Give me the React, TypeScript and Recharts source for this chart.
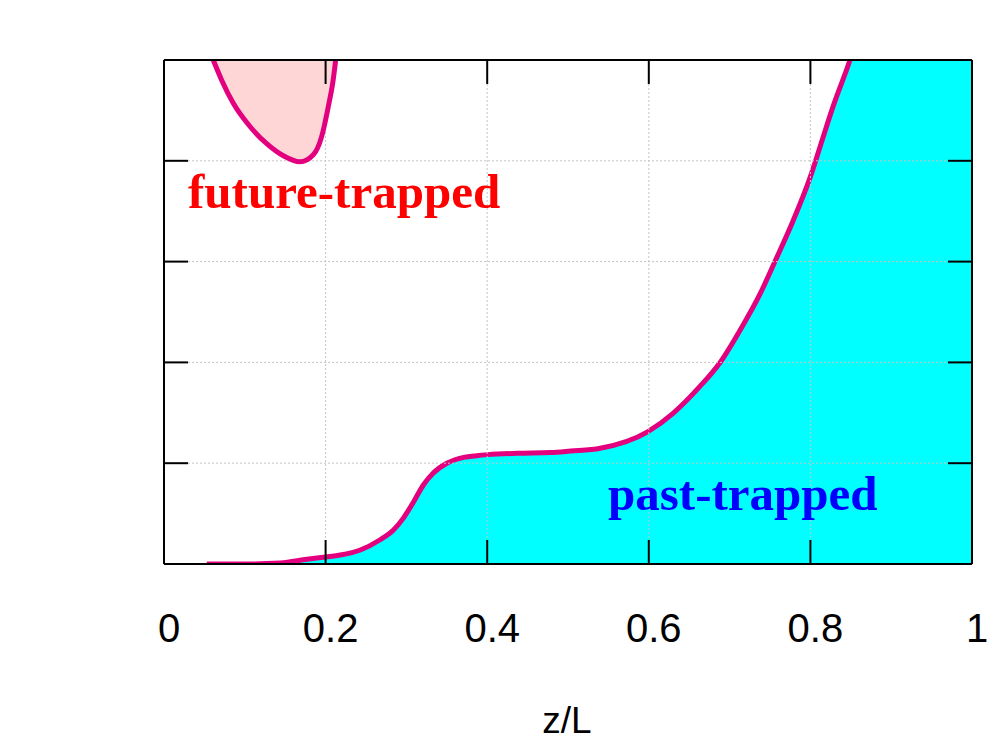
import React from 'react';
import { ComposedChart, Area, XAxis, YAxis, CartesianGrid } from 'recharts';

// past-trapped boundary (lower curve), z/L vs value
const pastZ = [0.053, 0.1, 0.144, 0.177, 0.2, 0.218, 0.243, 0.267, 0.284, 0.296, 0.309, 0.321, 0.333, 0.35, 0.371, 0.387, 0.401, 0.437, 0.478, 0.503, 0.54, 0.599, 0.63, 0.663, 0.688, 0.713, 0.738, 0.756, 0.779, 0.8, 0.812, 0.828, 0.849, 0.9, 1.0];
const pastBoundary = [0.0, 0.0, 0.01, 0.047, 0.07, 0.089, 0.139, 0.238, 0.337, 0.453, 0.618, 0.784, 0.9, 0.999, 1.058, 1.075, 1.085, 1.098, 1.105, 1.12, 1.148, 1.313, 1.495, 1.759, 1.997, 2.32, 2.685, 2.999, 3.413, 3.843, 4.14, 4.537, 5.0, 6.5, 9.0];

// future-trapped boundary (upper U-shaped curve)
const futureZ = [0.061, 0.0714, 0.0858, 0.1064, 0.1271, 0.1477, 0.1683, 0.1848, 0.1951, 0.2034, 0.2088, 0.2125];
const futureBoundary = [5.0, 4.8, 4.57, 4.34, 4.17, 4.05, 3.99, 4.06, 4.24, 4.54, 4.77, 5.0];

const xTicks = [0, 0.2, 0.4, 0.6, 0.8, 1];
const xTickLabels = ['0', '0.2', '0.4', '0.6', '0.8', '1'];
const yTicks = [0, 1, 2, 3, 4, 5];
const regionLabels = ['future-trapped', 'past-trapped'];
const xAxisTitle = 'z/L';

const pastData = pastZ.map((z, i) => ({ z, b: pastBoundary[i] }));
const futureData = futureZ.map((z, i) => ({ z, b: futureBoundary[i] }));

const CURVE = '#e2007f';
const SANS = '"Liberation Sans", Arial, sans-serif';
const SERIF = '"Liberation Serif", "Times New Roman", serif';

const XTick = (props: any) => {
  const { x, payload } = props;
  const idx = xTicks.indexOf(payload.value);
  const label = idx >= 0 ? xTickLabels[idx] : String(payload.value);
  return (
    <text x={x + 5} y={642} textAnchor="middle" fontFamily={SANS} fontSize={40} fill="#000">
      {label}
    </text>
  );
};

const EmptyTick = () => <g />;

const axisStroke = { stroke: '#000', strokeWidth: 2 };

export default function App() {
  return (
    <div style={{ position: 'absolute', left: 0, top: 0, width: 997, height: 747, background: '#fff' }}>
      <ComposedChart width={997} height={747} margin={{ top: 60, right: 25, bottom: 182, left: 164 }}>
        <Area
          data={pastData}
          dataKey="b"
          type="monotone"
          baseValue={0}
          fill="#00ffff"
          fillOpacity={1}
          stroke={CURVE}
          strokeWidth={5}
          dot={false}
          activeDot={false}
          isAnimationActive={false}
        />
        <CartesianGrid
          stroke="#c4c4c4"
          strokeDasharray="2 2"
          strokeWidth={1}
          xAxisId={0}
          yAxisId={0}
          {...({ zIndex: 150 } as any)}
        />
        <Area
          data={futureData}
          dataKey="b"
          type="monotone"
          baseValue={5}
          fill="#ffd6d6"
          fillOpacity={1}
          stroke={CURVE}
          strokeWidth={5}
          dot={false}
          activeDot={false}
          isAnimationActive={false}
          {...({ zIndex: 200 } as any)}
        />
        <XAxis
          xAxisId={0}
          dataKey="z"
          type="number"
          orientation="bottom"
          domain={[0, 1]}
          ticks={xTicks}
          interval={0}
          allowDataOverflow
          mirror
          tick={<EmptyTick />}
          tickSize={24}
          height={30}
          axisLine={axisStroke}
          tickLine={axisStroke}
        />
        <XAxis
          xAxisId="lbl"
          dataKey="z"
          type="number"
          orientation="bottom"
          domain={[0, 1]}
          ticks={xTicks}
          interval={0}
          allowDataOverflow
          axisLine={false}
          tickLine={false}
          tickSize={0}
          tickMargin={0}
          height={1}
          tick={<XTick />}
        />
        <XAxis
          xAxisId="top"
          dataKey="z"
          type="number"
          orientation="top"
          domain={[0, 1]}
          ticks={xTicks}
          interval={0}
          allowDataOverflow
          mirror
          tick={<EmptyTick />}
          tickSize={24}
          height={30}
          axisLine={axisStroke}
          tickLine={axisStroke}
        />
        <YAxis
          yAxisId={0}
          type="number"
          orientation="left"
          domain={[0, 5]}
          ticks={yTicks}
          interval={0}
          allowDataOverflow
          mirror
          tick={<EmptyTick />}
          tickSize={24}
          width={30}
          axisLine={axisStroke}
          tickLine={axisStroke}
        />
        <YAxis
          yAxisId="right"
          type="number"
          orientation="right"
          domain={[0, 5]}
          ticks={yTicks}
          interval={0}
          allowDataOverflow
          mirror
          tick={<EmptyTick />}
          tickSize={24}
          width={30}
          axisLine={axisStroke}
          tickLine={axisStroke}
        />
      </ComposedChart>
      <svg width={997} height={747} style={{ position: 'absolute', left: 0, top: 0, pointerEvents: 'none' }}>
        <text x={188} y={208} fontFamily={SERIF} fontWeight="bold" fontSize={49} fill="#ff0000">
          {regionLabels[0]}
        </text>
        <text x={608} y={510} fontFamily={SERIF} fontWeight="bold" fontSize={49} fill="#0000ff">
          {regionLabels[1]}
        </text>
        <text x={567} y={733} textAnchor="middle" fontFamily={SANS} fontSize={37} fill="#000">
          {xAxisTitle}
        </text>
      </svg>
    </div>
  );
}
